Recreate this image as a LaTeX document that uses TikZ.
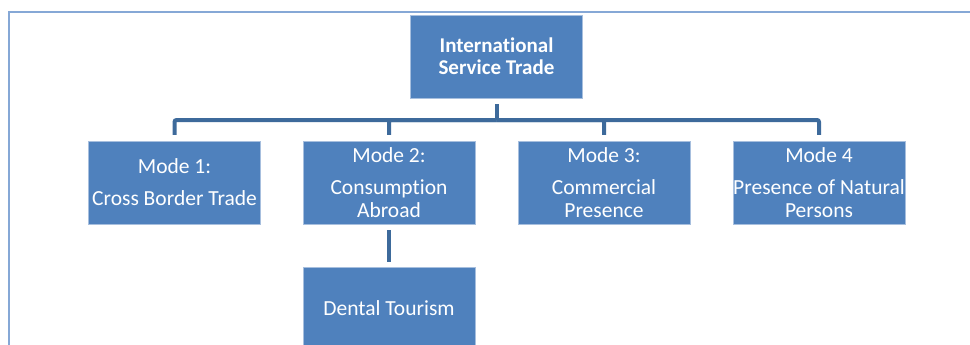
\documentclass[tikz,border=0pt]{standalone}
\usepackage{fontspec}
\setmainfont[Ligatures=NoCommon]{Carlito}
\usepackage{tikz}
\definecolor{boxblue}{HTML}{4F81BD}
\definecolor{edgeblue}{HTML}{A7BFDE}
\definecolor{linkblue}{HTML}{3D6A9B}
\definecolor{frameblue}{HTML}{86A8D6}
\tikzstyle{bluebox}=[
      rectangle,
      inner sep = 0pt,
      draw = edgeblue,
      thin,
      fill = boxblue,
      minimum width = 172pt,
      minimum height = 83pt,
      align = center,
      text = white,
      font = \fontsize{21.5pt}{23pt}\selectfont
      ]
\tikzstyle{link}=[
      draw = linkblue,
      line width = 4pt,
      rounded corners = 2pt
      ]

\begin{document}
\begin{tikzpicture}[x=1pt,y=-1pt]
\clip (0,0) rectangle (970,345);
% frame round the chart, runs off the page
\draw[frameblue, line width=1.5pt] (9,360) -- (9,12) -- (990,12);

\node [bluebox, font=\fontsize{21pt}{22pt}\selectfont\bfseries] (trade) at (496.5,56.5)
  {International\\Service Trade};

\node [bluebox] (mode1) at (174.5,182.5) {Mode 1:\\[9pt]Cross Border Trade};
\node [bluebox] (mode2) at (389,182.5) {Mode 2:\\[9pt]Consumption\\Abroad};
\node [bluebox] (mode3) at (604,182.5) {Mode 3:\\[9pt]Commercial\\Presence};
\node [bluebox] (mode4) at (819,182.5) {Mode 4\\[9pt]Presence of Natural\\Persons};

\node [bluebox] (dental) at (389,308.5) {Dental Tourism};

% tree connectors
\coordinate (bus) at (496.5,120);
\draw [link, shorten <=6pt] (trade.south) -- (trade.south |- bus);
\foreach \m in {mode1,mode2,mode3,mode4}
  \draw [link, shorten >=6pt] (trade.south |- bus) -| (\m.north);
\draw [link, shorten <=6pt, shorten >=5pt] (mode2.south) -- (dental.north);
\end{tikzpicture}
\end{document}
